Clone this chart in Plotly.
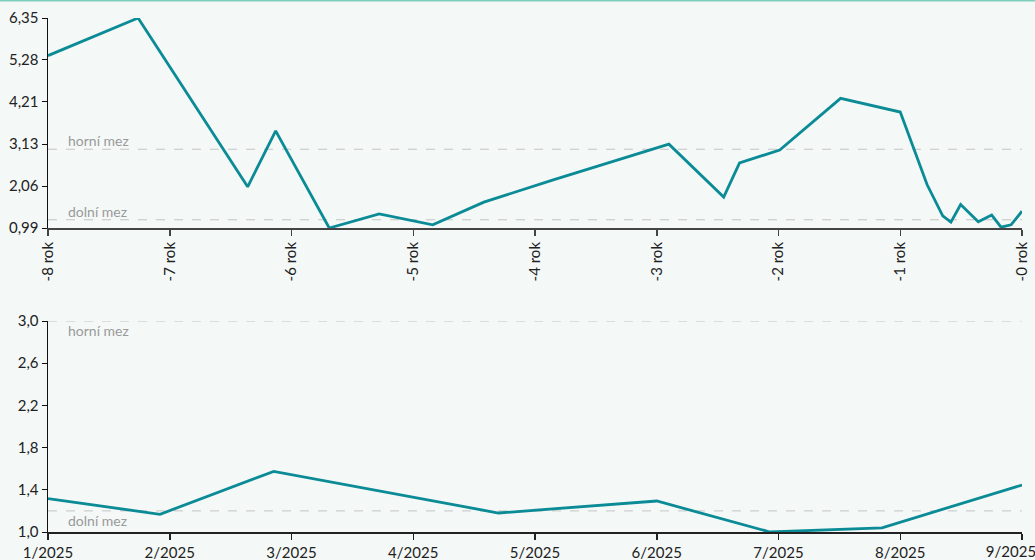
import plotly.graph_objects as go
from plotly.subplots import make_subplots

# ---- data: top chart (last 8 years) ----
top_x = [-8.0, -7.26, -6.36, -6.13, -5.69, -5.28, -4.84, -4.42, -3.85, -2.90,
         -2.45, -2.32, -1.99, -1.49, -1.0, -0.78, -0.651, -0.584, -0.504,
         -0.359, -0.249, -0.172, -0.090, 0.0]
top_y = [5.39, 6.35, 2.04, 3.47, 0.99, 1.35, 1.07, 1.65, 2.22, 3.13,
         1.78, 2.65, 2.98, 4.30, 3.95, 2.10, 1.30, 1.14, 1.59,
         1.15, 1.32, 1.01, 1.07, 1.42]
top_tickvals = [-8, -7, -6, -5, -4, -3, -2, -1, 0]
top_ticktext = ["-8 rok", "-7 rok", "-6 rok", "-5 rok", "-4 rok", "-3 rok", "-2 rok", "-1 rok", "-0 rok"]
top_yticks = [0.99, 2.06, 3.13, 4.21, 5.28, 6.35]
top_yticktext = ["0,99", "2,06", "3,13", "4,21", "5,28", "6,35"]

# ---- data: bottom chart (2025 months) ----
bot_x = [0.0, 0.92, 1.854, 3.70, 5.0, 5.93, 6.85, 8.0]
bot_y = [1.316, 1.168, 1.575, 1.18, 1.294, 1.0, 1.04, 1.445]
bot_tickvals = [0, 1, 2, 3, 4, 5, 6, 7, 8]
bot_ticktext = ["1/2025", "2/2025", "3/2025", "4/2025", "5/2025", "6/2025", "7/2025", "8/2025", "9/2025"]
bot_yticks = [1.0, 1.4, 1.8, 2.2, 2.6, 3.0]
bot_yticktext = ["1,0", "1,4", "1,8", "2,2", "2,6", "3,0"]

upper_limit = 3.0
lower_limit = 1.2
limit_labels = ["horní mez", "dolní mez"]

LINE = "#0a8b96"
BG = "#f4f8f7"
FONT = "Source Sans Pro, Lato, Noto Sans, sans-serif"

fig = make_subplots(rows=2, cols=1, vertical_spacing=0.0)
fig.add_trace(go.Scatter(x=top_x, y=top_y, mode="lines",
                         line=dict(color=LINE, width=2.8), showlegend=False,
                         hoverinfo="skip"), row=1, col=1)
fig.add_trace(go.Scatter(x=bot_x, y=bot_y, mode="lines",
                         line=dict(color=LINE, width=2.8), showlegend=False,
                         hoverinfo="skip"), row=2, col=1)
# helper trace so the overlay axis carrying the last month label is drawn
fig.add_trace(go.Scatter(x=bot_x[-1:], y=bot_y[-1:], mode="lines",
                         line=dict(color=LINE, width=0), showlegend=False,
                         hoverinfo="skip", xaxis="x3", yaxis="y2"))

axis_common = dict(showgrid=False, zeroline=False, showline=True,
                   ticks="outside", tickfont=dict(size=15, color="#222"),
                   fixedrange=True, automargin=False, ticklabeloverflow="allow")

# main bottom axis: all ticks, last label moved to an overlay axis so it can shift left
main_bot_text = bot_ticktext[:-1] + [""]

fig.update_layout(
    width=1035, height=560,
    margin=dict(l=48, r=13, t=18, b=28),
    paper_bgcolor=BG, plot_bgcolor=BG,
    font=dict(family=FONT, color="#222"),
    separators=", ",
    xaxis=dict(domain=[0, 1], range=[-8, 0], tickvals=top_tickvals,
               ticktext=top_ticktext, tickangle=-90, linecolor="#444",
               linewidth=2, tickcolor="#444", ticklen=6, tickwidth=1.5,
               anchor="y", **axis_common),
    yaxis=dict(domain=[304 / 514, 1], range=[0.99, 6.35], tickvals=top_yticks,
               ticktext=top_yticktext, linecolor="#111", linewidth=1.5,
               tickcolor="#111", ticklen=5, tickwidth=1, anchor="x",
               **axis_common),
    xaxis2=dict(domain=[0, 1], range=[0, 8], tickvals=bot_tickvals,
                ticktext=main_bot_text, tickangle=0, linecolor="#222",
                linewidth=1.5, tickcolor="#222", ticklen=6, tickwidth=1.5,
                anchor="y2", **axis_common),
    xaxis3=dict(domain=[0, 1], range=[0, 8], overlaying="x2", anchor="y2",
                side="bottom", tickvals=bot_tickvals[-1:], ticktext=bot_ticktext[-1:],
                tickangle=0, showline=False, showgrid=False, zeroline=False,
                ticks="outside", ticklen=6, tickcolor="rgba(0,0,0,0)",
                tickfont=dict(size=15, color="#222"), ticklabelshift=-11,
                fixedrange=True, automargin=False, ticklabeloverflow="allow"),
    yaxis2=dict(domain=[0, 211 / 514], range=[1.0, 3.0], tickvals=bot_yticks,
                ticktext=bot_yticktext, linecolor="#111", linewidth=1.5,
                tickcolor="#111", ticklen=5, tickwidth=1, anchor="x2",
                **axis_common),
)

shapes = []
for yref in ["y", "y2"]:
    for val in [upper_limit, lower_limit]:
        shapes.append(dict(type="line", xref=("x domain" if yref == "y" else "x2 domain"),
                           yref=yref, x0=0, x1=1, y0=val, y1=val,
                           line=dict(color="#c4c4c4", width=1, dash="dash"),
                           layer="below"))
# thin teal border along the top of the figure
shapes.append(dict(type="line", xref="paper", yref="paper", x0=-0.06, x1=1.02,
                   y0=1 + 17.5 / 514, y1=1 + 17.5 / 514,
                   line=dict(color="#7fcfbf", width=2)))
fig.update_layout(shapes=shapes)

ann_font = dict(size=14, color="#9a9a9a", family=FONT)
annotations = [
    dict(xref="x domain", yref="y", x=0.018, y=upper_limit, text=limit_labels[0],
         xanchor="left", yanchor="bottom", showarrow=False, font=ann_font, yshift=-2),
    dict(xref="x domain", yref="y", x=0.018, y=lower_limit, text=limit_labels[1],
         xanchor="left", yanchor="bottom", showarrow=False, font=ann_font, yshift=-2),
    dict(xref="x2 domain", yref="y2", x=0.018, y=upper_limit, text=limit_labels[0],
         xanchor="left", yanchor="top", showarrow=False, font=ann_font, yshift=1),
    dict(xref="x2 domain", yref="y2", x=0.018, y=lower_limit, text=limit_labels[1],
         xanchor="left", yanchor="top", showarrow=False, font=ann_font, yshift=1),
]
fig.update_layout(annotations=annotations)

fig.write_html(
    "out.html",
    config={"displayModeBar": False, "staticPlot": True},
    post_script="document.body.style.margin='0';document.body.style.overflow='hidden';",
)
